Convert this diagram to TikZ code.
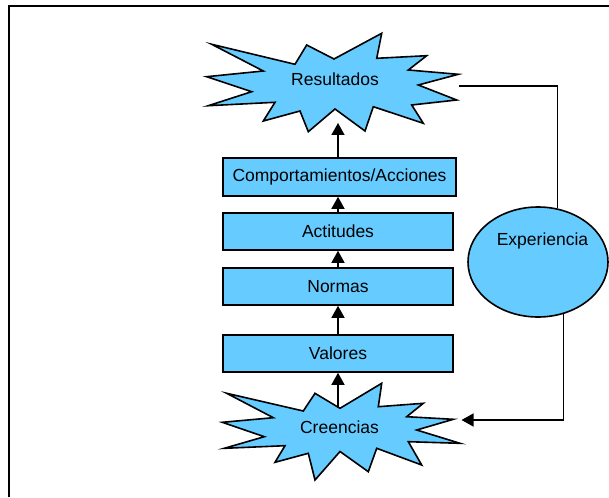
\documentclass[tikz,border=0pt]{standalone}
\usepackage{fontspec}
\setmainfont{Liberation Sans}
\usetikzlibrary{shapes.geometric,arrows.meta}
\definecolor{skyfill}{RGB}{102,204,255}
\begin{document}
\begin{tikzpicture}[x=1pt,y=-1pt,
  txt/.style={font=\fontsize{17.5}{20}\selectfont, inner sep=0pt},
  boxnode/.style={draw=black, line width=1.6pt, fill=skyfill, minimum width=230, minimum height=37, inner sep=0pt, font=\fontsize{17.5}{20}\selectfont},
  starshape/.style={draw=black, line width=1.6pt, fill=skyfill, line join=miter},
  conn/.style={draw=black, line width=1.4pt},
  arr/.style={conn, -{Triangle[length=12pt,width=13pt]}}]
\useasboundingbox (0,0) rectangle (609,497);
% frame
\draw[line width=2pt] (9.3,497) -- (9.3,5.7) -- (609,5.7);
% Resultados star
\draw[starshape] (211.7,44.3) -- (295,64.3) -- (306.7,45) -- (334,59) -- (381.7,33.3) -- (376.7,58.3)
  -- (426.7,55.7) -- (408.3,70) -- (458.3,74.3) -- (418.3,85) -- (456.7,100) -- (411.7,105)
  -- (423.3,123.3) -- (373.3,106.7) -- (365,131) -- (335,109) -- (308.3,131.7) -- (300,111)
  -- (263.3,121) -- (275,102.3) -- (208.3,105.7) -- (251.7,91.7) -- (206.7,76.7) -- (263.3,71) -- cycle;
\node[txt, anchor=base] (res) at (335,86) {Resultados};
\coordinate (resIn) at (338,123);
\coordinate (resR) at (459,86);
% Creencias star
\draw[starshape] (226.7,393.3) -- (303.3,411) -- (315,393.3) -- (340,408.3) -- (381.7,383.3) -- (378.3,406.7)
  -- (423.3,403.3) -- (406.7,416.7) -- (453.3,419.3) -- (416.7,430) -- (460,443.3) -- (408.3,441.7)
  -- (421.7,465) -- (376.7,448.3) -- (368.3,471.7) -- (340,451.5) -- (315,480) -- (308.3,453.3)
  -- (275,462.3) -- (285,445.7) -- (224.3,448.3) -- (264.3,436.7) -- (222.3,422.3) -- (273.3,417.7) -- cycle;
\node[txt, anchor=base] (cre) at (339.5,433) {Creencias};
\coordinate (creIn) at (338,408.3);
\coordinate (creR) at (461.5,420);
% boxes
\node[boxnode, minimum width=233, minimum height=38] (comp) at (339.5,177) {Comportamientos/Acciones};
\node[boxnode] (act) at (338,231.5) {Actitudes};
\node[boxnode] (nor) at (338,286.5) {Normas};
\node[boxnode] (val) at (338,353.5) {Valores};
% Experiencia
\node[ellipse, draw=black, line width=1.6pt, fill=skyfill, minimum width=140, minimum height=110, inner sep=0pt] (exp) at (538,262) {};
\node[txt, anchor=base] (expT) at (542.5,245) {Experiencia};
% vertical arrows
\draw[arr] (creIn) -- (val.south);
\draw[arr] (val.north) -- (nor.south);
\draw[arr] (nor.north) -- (act.south);
\draw[arr] (act.north) -- (act.north |- comp.south);
\draw[arr] (act.north |- comp.north) -- (resIn);
% feedback loop
\draw[conn] (resR) -| (exp.70);
\draw[arr] (exp.-64) |- (creR);
\end{tikzpicture}
\end{document}
